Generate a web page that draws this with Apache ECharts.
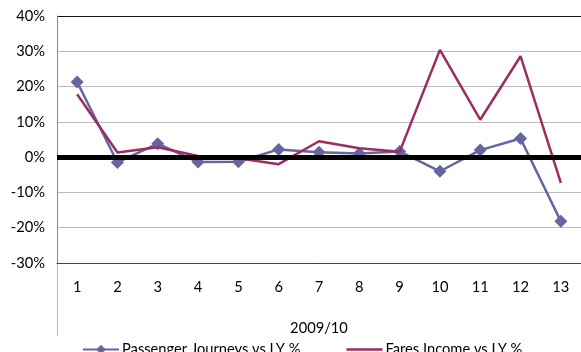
<!DOCTYPE html>
<html>
<head>
<meta charset="utf-8">
<script src="https://cdn.jsdelivr.net/npm/echarts@6/dist/echarts.min.js"></script>
<style>
  html, body { margin: 0; padding: 0; background: #fff; }
  #chart { width: 581px; height: 352px; }
</style>
</head>
<body>
<div id="chart"></div>
<script>
const periods = ["1", "2", "3", "4", "5", "6", "7", "8", "9", "10", "11", "12", "13"];
const passengerJourneys = [21.3, -1.5, 3.8, -1.4, -1.3, 2.2, 1.4, 1.0, 1.6, -4.0, 2.0, 5.3, -18.2];
const faresIncome = [17.8, 1.3, 2.8, 0.3, -0.3, -2.0, 4.5, 2.5, 1.5, 30.4, 10.6, 28.6, -7.3];
const yTicks = { min: -30, max: 40, step: 10 };

const chart = echarts.init(document.getElementById("chart"), null, { renderer: "canvas" });
const font = "Lato, 'Open Sans', sans-serif";
const fs = 14.7;

chart.setOption({
  animation: false,
  textStyle: { fontFamily: font },
  grid: { left: 57, right: -2, top: 16, bottom: 89 },
  legend: {
    top: 337,
    left: 77,
    itemWidth: 36,
    itemHeight: 12,
    itemGap: 46,
    textStyle: { fontSize: fs, color: "#000", fontFamily: font, padding: [0, 0, 0, -2] },
    data: [
      { name: "Passenger Journeys vs LY %" },
      { name: "Fares Income vs LY %", icon: "path://M0,5 L36,5 L36,7.5 L0,7.5 Z" }
    ]
  },
  xAxis: {
    type: "category",
    data: periods,
    boundaryGap: true,
    name: "2009/10",
    nameLocation: "middle",
    nameGap: 58,
    nameTextStyle: { fontSize: fs, color: "#000" },
    axisLine: { onZero: false, lineStyle: { color: "#444", width: 1 } },
    axisTick: { show: false },
    axisLabel: { fontSize: fs, color: "#000", margin: 17 }
  },
  yAxis: {
    type: "value",
    min: yTicks.min,
    max: yTicks.max,
    interval: yTicks.step,
    axisLine: { show: true, lineStyle: { color: "#888", width: 1 } },
    axisTick: { show: false },
    axisLabel: {
      fontSize: fs,
      color: "#000",
      margin: 12,
      formatter: v => v + "%"
    },
    splitLine: {
      lineStyle: {
        color: ["#444", "#bbb", "#bbb", "#bbb", "#bbb", "#bbb", "#bbb", "#111"],
        width: 1
      }
    }
  },
  graphic: [
    {
      type: "line",
      shape: { x1: 57.5, y1: 263, x2: 57.5, y2: 336 },
      style: { stroke: "#bbb", lineWidth: 1 }
    }
  ],
  series: [
    {
      name: "Passenger Journeys vs LY %",
      type: "line",
      data: passengerJourneys,
      color: "#65659f",
      symbol: "diamond",
      symbolSize: 13,
      lineStyle: { width: 2.5, color: "#65659f" },
      itemStyle: { color: "#65659f" },
      z: 3,
      markLine: {
        silent: true,
        symbol: "none",
        label: { show: false },
        lineStyle: { color: "#000", width: 5, type: "solid" },
        data: [{ yAxis: 0 }],
        z: 5
      }
    },
    {
      name: "Fares Income vs LY %",
      type: "line",
      data: faresIncome,
      color: "#9b2d62",
      symbol: "none",
      lineStyle: { width: 2.5, color: "#9b2d62" },
      itemStyle: { color: "#9b2d62" },
      z: 4
    }
  ]
});
</script>
</body>
</html>
